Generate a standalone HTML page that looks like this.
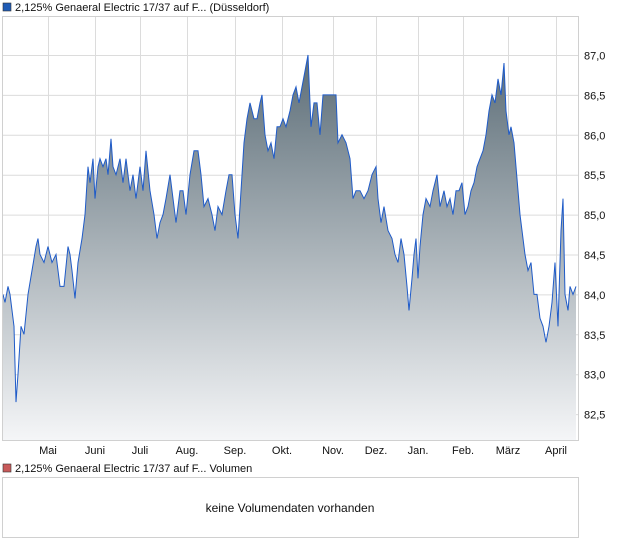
<!DOCTYPE html>
<html><head><meta charset="utf-8"><style>
body{margin:0;background:#fff;font-family:"Liberation Sans",sans-serif;}
</style></head><body>
<svg id="s" width="620" height="546" xmlns="http://www.w3.org/2000/svg" font-family="Liberation Sans, sans-serif" font-size="11">
<defs><linearGradient id="g" x1="0" y1="55" x2="0" y2="441" gradientUnits="userSpaceOnUse">
<stop offset="0" stop-color="#5c6d77"/><stop offset="0.5" stop-color="#a9b2b8"/><stop offset="1" stop-color="#f5f6f8"/></linearGradient></defs>
<rect x="3" y="3" width="8" height="8" fill="#1f5bb5" stroke="#333" stroke-width="0.6"/>
<text x="15" y="11" fill="#111">2,125% Genaeral Electric 17/37 auf F... (Düsseldorf)</text>
<g id="grid" stroke="#dcdcdc" stroke-width="1"></g>
<path id="area" fill="url(#g)"/>
<path id="line" fill="none" stroke="#1f5bc8" stroke-width="1"/>
<rect x="2.5" y="16.5" width="576" height="424" fill="none" stroke="#d0d0d0"/>
<g id="yl" fill="#111"></g>
<g id="xl" fill="#111" text-anchor="middle"></g>
<rect x="3" y="464" width="8" height="8" fill="#c85a5a" stroke="#333" stroke-width="0.6"/>
<text x="15" y="472" fill="#111">2,125% Genaeral Electric 17/37 auf F... Volumen</text>
<rect x="2.5" y="477.5" width="576" height="60" fill="none" stroke="#d0d0d0"/>
<text x="290" y="512" fill="#111" font-size="12" text-anchor="middle">keine Volumendaten vorhanden</text>
</svg>
<script>
var ns="http://www.w3.org/2000/svg";
function Y(v){return 55+(87-v)*79.8;}
var d=[3,84.0,5,83.9,8,84.1,10,84.0,14,83.6,16,82.65,18,83.0,21,83.6,24,83.5,28,84.0,32,84.3,36,84.6,38,84.7,40,84.5,44,84.4,48,84.6,52,84.4,56,84.5,60,84.1,64,84.1,68,84.6,70,84.5,72,84.3,75,83.95,78,84.4,82,84.7,85,85.0,88,85.6,90,85.4,93,85.7,95,85.2,98,85.6,100,85.7,103,85.6,106,85.7,108,85.5,111,85.95,113,85.6,116,85.5,120,85.7,123,85.4,126,85.7,130,85.3,133,85.5,136,85.2,140,85.6,143,85.3,146,85.8,150,85.3,154,85.0,157,84.7,160,84.9,163,85.0,166,85.2,170,85.5,173,85.2,176,84.9,180,85.3,183,85.3,186,85.0,190,85.5,194,85.8,198,85.8,201,85.5,204,85.1,208,85.2,212,85.0,215,84.8,218,85.1,222,85.0,226,85.3,229,85.5,232,85.5,235,85.0,238,84.7,241,85.3,244,85.9,247,86.2,250,86.4,254,86.2,257,86.2,260,86.4,262,86.5,265,86.0,268,85.8,271,85.9,274,85.7,277,86.1,280,86.1,283,86.2,286,86.1,290,86.3,293,86.5,296,86.6,299,86.4,302,86.6,305,86.8,308,87.0,311,86.1,314,86.4,317,86.4,320,86.0,323,86.5,326,86.5,332,86.5,336,86.5,338,85.9,342,86.0,346,85.9,350,85.7,353,85.2,356,85.3,360,85.3,364,85.2,368,85.3,372,85.5,376,85.6,378,85.2,381,84.9,384,85.1,388,84.8,392,84.7,395,84.5,398,84.4,401,84.7,404,84.5,407,84.1,409,83.8,412,84.2,414,84.5,416,84.7,418,84.2,420,84.6,423,85.0,426,85.2,430,85.1,433,85.3,437,85.5,440,85.1,444,85.3,447,85.1,450,85.2,453,85.0,456,85.3,459,85.3,462,85.4,465,85.0,468,85.1,471,85.3,474,85.4,477,85.6,480,85.7,483,85.8,486,86.0,489,86.3,492,86.5,495,86.4,498,86.7,501,86.5,504,86.9,506,86.3,509,86.0,511,86.1,514,85.9,516,85.6,518,85.3,520,85.0,522,84.8,525,84.5,528,84.3,531,84.4,534,84.0,537,84.0,540,83.7,543,83.6,546,83.4,549,83.6,552,83.9,555,84.4,558,83.6,561,84.8,563,85.2,565,84.0,568,83.8,570,84.1,573,84.0,576,84.1];
var p="";for(var i=0;i<d.length;i+=2){p+=(i?"L":"M")+d[i]+","+Y(d[i+1]).toFixed(1);}
document.getElementById("line").setAttribute("d",p);
document.getElementById("area").setAttribute("d",p+"L576,441L3,441Z");
var g=document.getElementById("grid"),yl=document.getElementById("yl"),xl=document.getElementById("xl");
function el(t,a,par,txt){var e=document.createElementNS(ns,t);for(var k in a)e.setAttribute(k,a[k]);if(txt)e.textContent=txt;par.appendChild(e);}
for(var v=82.5;v<=87.01;v+=0.5){var y=Y(v)+0.5;el("line",{x1:3,x2:578,y1:y,y2:y},g);el("text",{x:584,y:y+4},yl,v.toFixed(1).replace(".",","));}
var m=[[48,"Mai"],[95,"Juni"],[140,"Juli"],[187,"Aug."],[235,"Sep."],[282,"Okt."],[333,"Nov."],[376,"Dez."],[418,"Jan."],[463,"Feb."],[508,"März"],[556,"April"]];
m.forEach(function(a){el("line",{x1:a[0]+0.5,x2:a[0]+0.5,y1:17,y2:441},g);el("text",{x:a[0],y:454},xl,a[1]);});
</script>
</body></html>
